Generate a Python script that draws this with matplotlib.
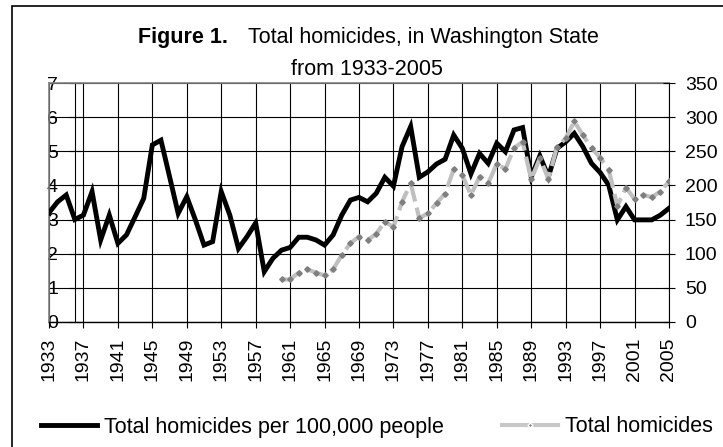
import matplotlib
matplotlib.use("Agg")
import matplotlib.pyplot as plt
from matplotlib.patches import Rectangle
from matplotlib.lines import Line2D
import numpy as np

# homicide rate per 100,000, 1933-2005
years = list(range(1933, 2006))
rate = [3.2, 3.52, 3.72, 3.0, 3.13, 3.82, 2.4, 3.13, 2.3, 2.55,
        3.08, 3.62, 5.19, 5.33, 4.26, 3.18, 3.67, 2.99, 2.25, 2.35,
        3.82, 3.13, 2.15, 2.5, 2.9, 1.47, 1.86, 2.1, 2.18, 2.48,
        2.48, 2.4, 2.25, 2.55, 3.13, 3.57, 3.65, 3.52, 3.77, 4.24,
        3.98, 5.14, 5.73, 4.24, 4.4, 4.63, 4.77, 5.48, 5.09, 4.34,
        4.94, 4.65, 5.24, 4.99, 5.63, 5.7, 4.26, 4.87, 4.26, 5.09,
        5.28, 5.53, 5.14, 4.65, 4.38, 4.01, 2.99, 3.38, 2.99, 2.99,
        2.99, 3.13, 3.33]

# total homicides, 1960-2005
hom_years = list(range(1960, 2006))
homicides = [62, 62, 72, 77, 72, 68, 77, 98, 115, 125,
             120, 129, 147, 139, 176, 203, 152, 159, 174, 188,
             224, 215, 186, 213, 203, 232, 224, 255, 264, 209,
             240, 210, 257, 269, 294, 274, 255, 241, 223, 170,
             197, 180, 186, 183, 191, 206]

xtick_years = list(range(1933, 2006, 4))

plt.rcParams['font.family'] = ['Liberation Sans', 'DejaVu Sans']

W, H = 723, 447
fig = plt.figure(figsize=(W / 100, H / 100), dpi=100)
ax = fig.add_axes([49 / W, 1 - 321.7 / H, 620 / W, 238.4 / H])

l1, = ax.plot(years, rate, color='black', lw=3.5, solid_joinstyle='miter',
              zorder=3, label='Total homicides per 100,000 people')
ax.set_xlim(1933, 2005)
ax.set_ylim(0, 7)
ax.set_yticks(range(0, 8))
ax.set_xticks(xtick_years)
ax.set_xticklabels([str(y) for y in xtick_years], rotation=90, fontsize=14)
ax.grid(True, color='black', lw=0.8)
ax.set_axisbelow(True)

ax.spines['left'].set_position(('data', 1936))
ax.spines['left'].set_color('black')
ax.spines['right'].set_visible(False)
ax.spines['top'].set_color('#808080')
ax.spines['top'].set_linewidth(1.2)
ax.spines['bottom'].set_linewidth(1.0)
ax.axvline(1933, color='#808080', lw=1.2, clip_on=False, zorder=1)
ax.tick_params(axis='y', direction='inout', length=9, pad=7.7, labelsize=14)
ax.tick_params(axis='x', direction='out', length=4, pad=7.5)

ax2 = ax.twinx()
ax2.plot(hom_years, homicides, color='#c0c0c0', lw=3,
         linestyle=(0, (5, 1.5)), marker='D', ms=2.8,
         mfc='#7f7f7f', mec='#7f7f7f', zorder=4)
ax2.set_ylim(0, 350)
ax2.set_yticks(range(0, 351, 50))
for s in ['left', 'top', 'bottom']:
    ax2.spines[s].set_visible(False)
ax2.spines['right'].set_color('black')
ax2.tick_params(axis='y', direction='inout', length=9, pad=7, labelsize=14)

# legend key for the grey series is drawn solid, as in the original
l2 = Line2D([], [], color='#c8c8c8', lw=3, marker='D', ms=2.5,
            mfc='#7f7f7f', mec='white', mew=1.0, label='Total homicides')

# title
fig.text(138 / W, 1 - 43 / H, 'Figure 1.', fontsize=15.5, fontweight='bold',
         ha='left', va='baseline')
fig.text(248 / W, 1 - 43 / H, 'Total homicides, in Washington State',
         fontsize=15.5, ha='left', va='baseline')
fig.text(367 / W, 1 - 75 / H, 'from 1933-2005', fontsize=15.5,
         ha='center', va='baseline')

fig.legend(handles=[l1, l2], loc='center left',
           bbox_to_anchor=(41 / W, 1 - 427 / H), ncol=2, frameon=False,
           borderpad=0, borderaxespad=0, handlelength=2.6,
           handletextpad=0.33, columnspacing=2.7,
           prop={'size': 15.5})

# outer chart frame (cut by the image edges)
fig.add_artist(Rectangle((12 / W, -0.5), 1.5, (1 - 6 / H) + 0.5,
                         transform=fig.transFigure, fill=False,
                         lw=1.2, ec='black'))

fig.savefig('out.png', dpi=100)
